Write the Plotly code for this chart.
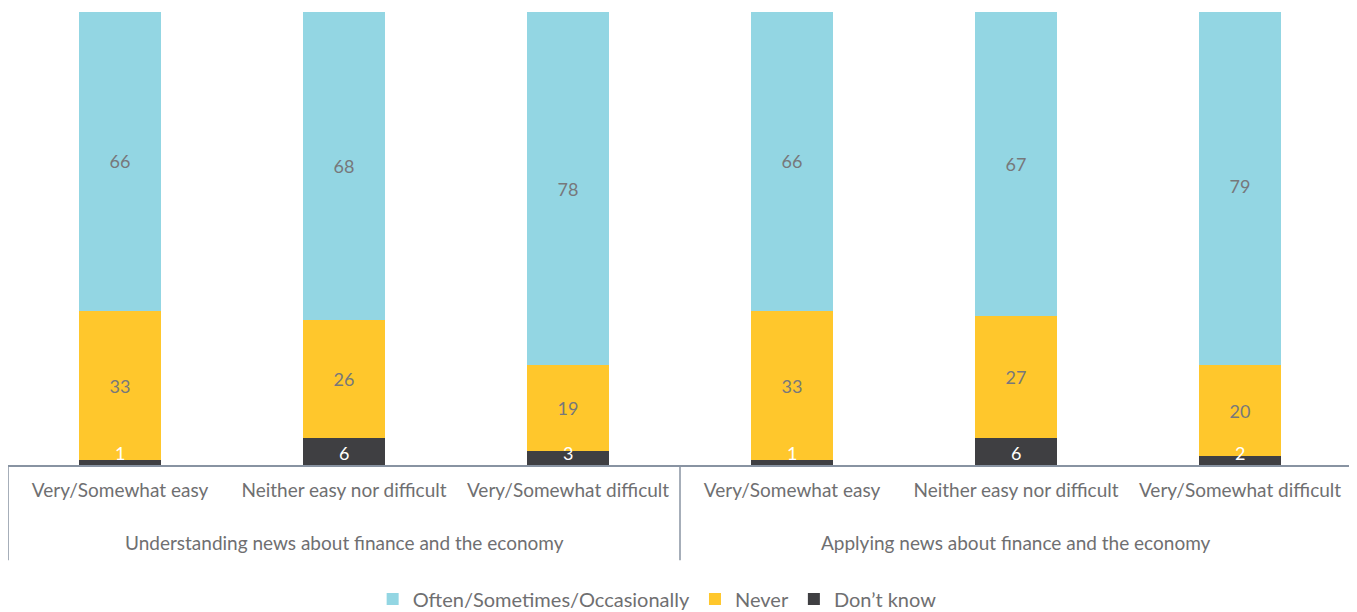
import plotly.graph_objects as go

groups = ["Understanding news about finance and the economy",
          "Applying news about finance and the economy"]
subcats = ["Very/Somewhat easy", "Neither easy nor difficult", "Very/Somewhat difficult"]

often = [66, 68, 78, 66, 67, 79]
never = [33, 26, 19, 33, 27, 20]
dont_know = [1, 6, 3, 1, 6, 2]

keys = [f"{g}|{s}" for g in groups for s in subcats]
tick_text = [s for g in groups for s in subcats]

FONT = "Lato"
GREY = "#6f6f71"
VAL = "#77787b"

fig = go.Figure()
fig.add_trace(go.Bar(x=keys, y=dont_know, name="Don\u2019t know", marker_color="#3f3f42",
                     marker_line_width=0, width=0.37, hoverinfo="skip"))
for name, vals, col in [("Never", never, "#ffc72c"),
                        ("Often/Sometimes/Occasionally", often, "#93d6e3")]:
    fig.add_trace(go.Bar(
        x=keys, y=vals, name=name, marker_color=col, marker_line_width=0,
        text=[str(v) for v in vals], textposition="inside", insidetextanchor="middle",
        textangle=0,
        textfont=dict(color=VAL, size=18, family=FONT), width=0.37,
        hoverinfo="skip",
    ))

# labels of the thin dark segments sit on the base line, as in the original
for k, v in zip(keys, dont_know):
    fig.add_annotation(x=k, xref="x", y=0, yref="y", text=str(v), showarrow=False,
                       yanchor="bottom", font=dict(size=18, color="white", family=FONT),
                       yshift=-1)

# page body has an 8px margin; figure size/margins compensate for it
fig.update_layout(
    barmode="stack",
    width=1349, height=604,
    margin=dict(l=0, r=5, t=4, b=147, autoexpand=False),
    plot_bgcolor="white", paper_bgcolor="white",
    font=dict(family=FONT, color=GREY, size=19),
    uniformtext=dict(minsize=18, mode="show"),
    legend=dict(orientation="h", x=0.483, xanchor="center", y=-0.296, yanchor="middle",
                traceorder="reversed", font=dict(size=20, color=GREY)),
    showlegend=True,
)
fig.update_xaxes(type="category", tickvals=keys, ticktext=tick_text,
                 showline=True, linecolor="#8893a2", linewidth=1.5,
                 ticks="", tickfont=dict(size=19, color=GREY, family=FONT),
                 ticklabelstandoff=7, automargin=False,
                 showgrid=False)
fig.update_yaxes(range=[0, 100], visible=False, showgrid=False, automargin=False)

for xp in [0, 0.5, 1]:
    fig.add_shape(type="line", xref="paper", yref="paper", x0=xp, x1=xp, y0=0, y1=-0.21,
                  line=dict(color="#8893a2", width=1.5))

for g, key in zip(groups, [keys[1], keys[4]]):
    fig.add_annotation(x=key, xref="x", y=-0.172, yref="paper", text=g, showarrow=False,
                       font=dict(size=19, color=GREY, family=FONT), yanchor="middle")

fig.write_html("out.html")
